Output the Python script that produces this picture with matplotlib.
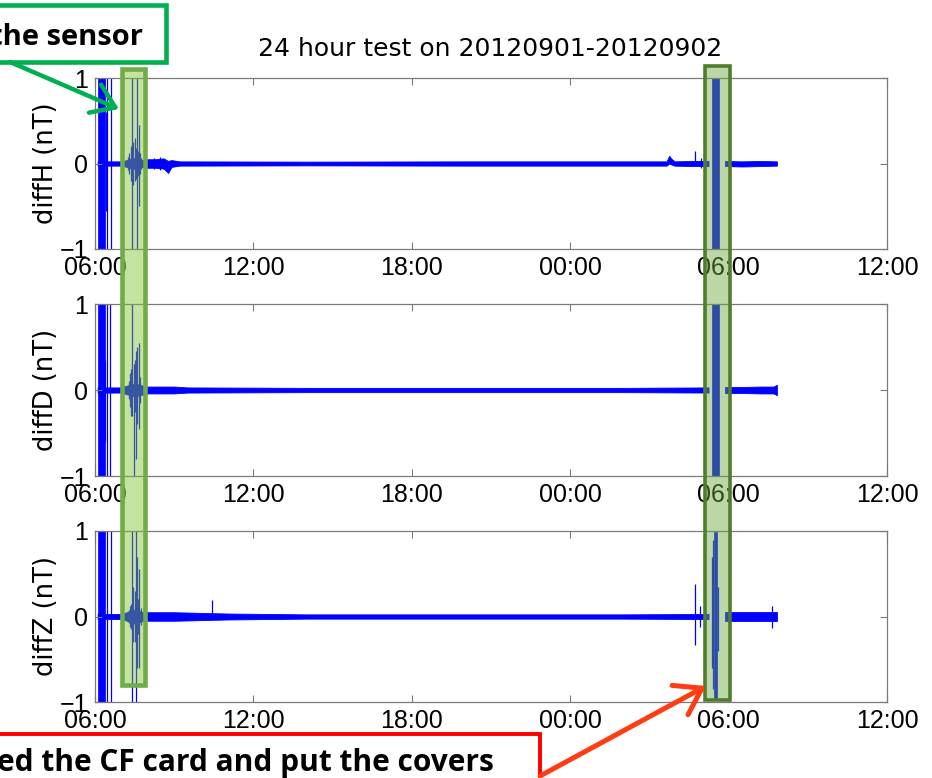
import numpy as np
import matplotlib
matplotlib.use("Agg")
import matplotlib.pyplot as plt
from matplotlib.patches import Rectangle, FancyArrowPatch

FIG_W, FIG_H, DPI = 932, 778, 100

title = "24 hour test on 20120901-20120902"
tick_hours = [0, 6, 12, 18, 24, 30]
tick_labels = ["06:00", "12:00", "18:00", "00:00", "06:00", "12:00"]
y_ticks = [-1, 0, 1]
y_tick_labels = ["\u22121", "0", "1"]
channel_labels = ["diffH (nT)", "diffD (nT)", "diffZ (nT)"]

# Time axis: hours elapsed since 2012-09-01 06:00.
# Each channel: envelope of the 1 s difference trace (low / high) before and
# after the CF-card swap, the saturated stretches, and isolated spikes.

# --- diffH ---
H_main_t = [0.10, 1.00, 1.20, 1.40, 1.60, 1.80, 2.00, 2.30, 2.60, 2.77,
            2.90, 3.20, 8.0, 14.0, 20.0, 21.65, 21.75, 21.82, 21.95, 22.60, 23.24]
H_main_hi = [0.025, 0.025, 0.04, 0.06, 0.06, 0.04, 0.05, 0.05, 0.06, 0.03,
             0.04, 0.025, 0.022, 0.025, 0.025, 0.025, 0.09, 0.06, 0.025, 0.03, 0.03]
H_main_lo = [-0.025, -0.025, -0.04, -0.06, -0.06, -0.04, -0.05, -0.05, -0.06, -0.11,
             -0.04, -0.025, -0.022, -0.025, -0.025, -0.025, 0.0, -0.01, -0.025, -0.03, -0.03]
H_tail_t = [23.86, 24.50, 25.20, 25.83]
H_tail_hi = [0.03, 0.025, 0.03, 0.025]
H_tail_lo = [-0.03, -0.035, -0.03, -0.025]
H_sat = [0.12, 0.36]
H_bar_t, H_bar_lo, H_bar_hi = [23.37, 23.64], -1.2, 1.2
H_spk_t = [0.47, 0.59, 0.40, 1.25, 1.30, 1.35, 1.41, 1.45, 1.50, 1.55, 1.58, 1.62,
           1.66, 1.70, 1.75, 2.25, 2.45, 22.73, 22.95]
H_spk_lo = [-1.2, -1.2, -0.55, -0.08, -0.12, -0.20, -1.2, -0.25, -0.20, -0.18, -1.2, -0.15,
            -0.50, -0.12, -0.06, -0.07, -0.08, -0.02, -0.05]
H_spk_hi = [1.2, 1.2, 0.60, 0.08, 0.12, 0.20, 1.2, 0.25, 0.30, 0.18, 1.2, 0.15,
            0.45, 0.12, 0.06, 0.07, 0.08, 0.15, 0.06]

# --- diffD ---
D_main_t = [0.10, 1.00, 1.20, 1.40, 1.60, 1.80, 2.00, 2.50, 3.00, 3.50,
            8.0, 14.0, 20.0, 23.24]
D_main_hi = [0.03, 0.03, 0.05, 0.07, 0.07, 0.05, 0.04, 0.04, 0.04, 0.03,
             0.025, 0.025, 0.025, 0.03]
D_main_lo = [-0.03, -0.03, -0.05, -0.07, -0.07, -0.05, -0.04, -0.04, -0.04, -0.03,
             -0.025, -0.025, -0.025, -0.03]
D_tail_t = [23.86, 24.50, 25.20, 25.70, 25.83]
D_tail_hi = [0.035, 0.035, 0.04, 0.04, 0.06]
D_tail_lo = [-0.035, -0.035, -0.04, -0.04, -0.06]
D_sat = [0.12, 0.36]
D_bar_t, D_bar_lo, D_bar_hi = [23.37, 23.64], -1.2, 1.2
D_spk_t = [0.47, 0.57, 0.38, 1.28, 1.33, 1.38, 1.42, 1.46, 1.50, 1.55, 1.60, 1.66,
           1.72, 1.78]
D_spk_lo = [-1.2, -1.2, -0.60, -0.10, -0.20, -0.30, -0.30, -1.2, -0.25, -0.80, -0.40, -0.45,
            -0.15, -0.06]
D_spk_hi = [1.2, 1.2, 0.35, 0.10, 0.20, 0.25, 1.2, 0.30, 0.35, 0.45, 0.50, 0.55,
            0.15, 0.06]

# --- diffZ ---
Z_main_t = [0.10, 1.00, 1.20, 1.40, 1.60, 1.80, 2.00, 3.00, 5.00, 8.0,
            14.0, 20.0, 23.24]
Z_main_hi = [0.03, 0.03, 0.05, 0.08, 0.08, 0.05, 0.05, 0.05, 0.035, 0.025,
             0.025, 0.025, 0.03]
Z_main_lo = [-0.03, -0.03, -0.05, -0.08, -0.08, -0.05, -0.05, -0.05, -0.035, -0.025,
             -0.025, -0.025, -0.03]
Z_tail_t = [23.86, 24.50, 25.20, 25.83]
Z_tail_hi = [0.05, 0.05, 0.05, 0.05]
Z_tail_lo = [-0.05, -0.05, -0.05, -0.05]
Z_sat = [0.12, 0.36]
Z_bar_t, Z_bar_lo, Z_bar_hi = [23.44, 23.57], -0.96, 0.99
Z_spk_t = [0.47, 0.59, 1.28, 1.33, 1.38, 1.41, 1.45, 1.50, 1.54, 1.58, 1.63, 1.68, 1.73,
           4.43, 22.73, 22.92, 23.38, 23.41, 23.60, 25.64]
Z_spk_lo = [-1.2, -1.2, -0.08, -0.12, -0.15, -1.2, -0.30, -0.30, -1.2, -0.60, -0.20, -0.60, -0.10,
            0.0, -0.33, -0.12, -0.60, -0.85, -0.40, -0.14]
Z_spk_hi = [1.2, 1.2, 0.08, 0.12, 0.15, 1.2, 0.35, 0.30, 1.2, 0.70, 0.20, 0.55, 0.10,
            0.19, 0.38, 0.12, 0.70, 0.90, 0.35, 0.12]

channels = [
    (H_main_t, H_main_lo, H_main_hi, H_tail_t, H_tail_lo, H_tail_hi,
     H_sat, (H_bar_t, H_bar_lo, H_bar_hi), H_spk_t, H_spk_lo, H_spk_hi),
    (D_main_t, D_main_lo, D_main_hi, D_tail_t, D_tail_lo, D_tail_hi,
     D_sat, (D_bar_t, D_bar_lo, D_bar_hi), D_spk_t, D_spk_lo, D_spk_hi),
    (Z_main_t, Z_main_lo, Z_main_hi, Z_tail_t, Z_tail_lo, Z_tail_hi,
     Z_sat, (Z_bar_t, Z_bar_lo, Z_bar_hi), Z_spk_t, Z_spk_lo, Z_spk_hi),
]

TRACE = "#0000ff"
SPINE = "#7a7a7a"

fig = plt.figure(figsize=(FIG_W / DPI, FIG_H / DPI), dpi=DPI)
fig.patch.set_facecolor("white")


def px(x, y):
    """Pixel position (origin top-left) to figure fraction."""
    return x / FIG_W, 1 - y / FIG_H


# axes boxes in pixels: left, right, top, bottom
panel_px = [(95, 887, 78, 249), (95, 887, 304, 476), (95, 887, 531, 702)]
axes = []
for (l, r, t, b), label, ch in zip(panel_px, channel_labels, channels):
    ax = fig.add_axes([l / FIG_W, 1 - b / FIG_H, (r - l) / FIG_W, (b - t) / FIG_H])
    (mt, mlo, mhi, tt, tlo, thi, sat, bar, st, slo, shi) = ch
    ax.fill_between(mt, mlo, mhi, color=TRACE, lw=0.6, edgecolor=TRACE)
    ax.fill_between(tt, tlo, thi, color=TRACE, lw=0.6, edgecolor=TRACE)
    ax.fill_between(sat, [-1.2, -1.2], [1.2, 1.2], color=TRACE, lw=0.5)
    bt, blo, bhi = bar
    ax.fill_between(bt, [blo, blo], [bhi, bhi], color=TRACE, lw=0.5)
    ax.vlines(st, slo, shi, color=TRACE, lw=0.9)

    ax.set_xlim(0, 30)
    ax.set_ylim(-1, 1)
    ax.set_xticks(tick_hours)
    ax.set_xticklabels(tick_labels)
    ax.set_yticks(y_ticks)
    ax.set_yticklabels(y_tick_labels)
    ax.tick_params(direction="in", top=True, right=True, length=5, width=0.8,
                   color=SPINE, labelsize=18, pad=5)
    for lab in ax.get_xticklabels() + ax.get_yticklabels():
        lab.set_fontfamily("Liberation Sans")
    for s in ax.spines.values():
        s.set_color(SPINE)
        s.set_linewidth(0.9)
    ax.set_ylabel(label, fontsize=18.5, fontfamily="DejaVu Sans")
    ax.yaxis.set_label_coords(-0.046, 0.5)
    axes.append(ax)

fig.text(*px(490, 49), title, ha="center", va="center", fontsize=18,
         fontfamily="DejaVu Sans")


def rect_px(x0, y0, x1, y1, **kw):
    fx0, fy1 = px(x0, y0)
    fx1, fy0 = px(x1, y1)
    r = Rectangle((fx0, fy0), fx1 - fx0, fy1 - fy0, transform=fig.transFigure, **kw)
    fig.add_artist(r)
    return r


# highlighted time windows, spanning the three panels
rect_px(121.5, 68.5, 145, 684.5, facecolor="#7cbf2c", alpha=0.45, lw=0, zorder=5)
rect_px(121.5, 68.5, 145, 684.5, facecolor="none", edgecolor="#70ad47", lw=3.3, zorder=6)
rect_px(705, 66, 730, 700, facecolor="#6aa83e", alpha=0.45, lw=0, zorder=5)
rect_px(705, 66, 730, 700, facecolor="none", edgecolor="#4f7d2b", lw=2.6, zorder=6)

# callout: sensor
GREEN = "#00b050"
rect_px(-20, 5.5, 165.5, 62, facecolor="white", edgecolor=GREEN, lw=3.3, zorder=7)
fig.text(*px(143, 45), "the sensor", ha="right", va="baseline", fontsize=21,
         fontweight="bold", fontfamily="Open Sans", zorder=8)
fig.add_artist(FancyArrowPatch(px(10, 62), px(119, 109), transform=fig.transFigure,
                               arrowstyle="->,head_length=0.8,head_width=0.55",
                               mutation_scale=20, color=GREEN, lw=3.2, zorder=8,
                               shrinkA=0, shrinkB=0))

# callout: CF card
RED = "#ff0000"
rect_px(-20, 733.5, 540, 800, facecolor="white", edgecolor=RED, lw=2.8, zorder=7)
fig.text(*px(-3, 771), "ed the CF card and put the covers", ha="left", va="baseline",
         fontsize=21.5, fontweight="bold", fontfamily="Open Sans", zorder=8)
fig.add_artist(FancyArrowPatch(px(540, 776), px(706, 686), transform=fig.transFigure,
                               arrowstyle="->,head_length=0.9,head_width=0.6",
                               mutation_scale=20, color="#ff3c14", lw=3.6, zorder=8,
                               shrinkA=0, shrinkB=0))

fig.savefig("out.png", dpi=DPI)
